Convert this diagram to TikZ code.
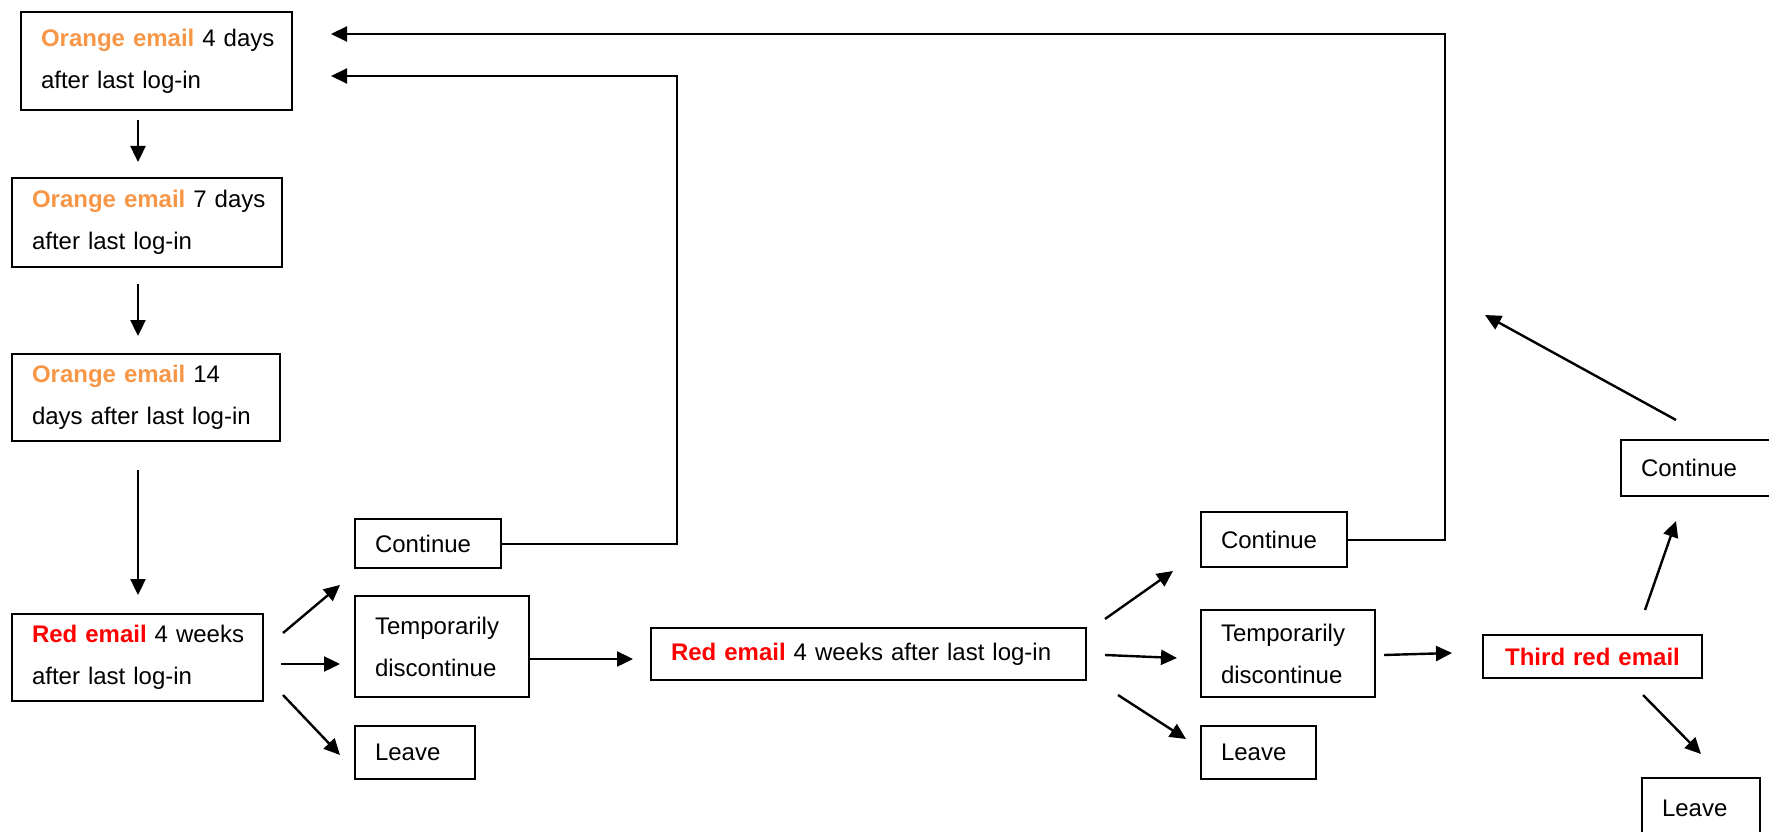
\documentclass[tikz,border=0pt]{standalone}
\usepackage{fontspec}
\setmainfont{Liberation Sans}
\usetikzlibrary{arrows.meta}

\definecolor{mailorange}{HTML}{F79646}
\definecolor{mailred}{HTML}{FF0000}
\newcommand{\orangemail}{\textbf{\color{mailorange}Orange~email}}
\newcommand{\redmail}{\textbf{\color{mailred}Red~email}}

\begin{document}
\begin{tikzpicture}[x=1pt, y=-1pt, font=\fontsize{24}{42}\selectfont,
    box/.style={draw, line width=2pt, anchor=north west, inner xsep=20pt, inner ysep=0pt, align=left},
    arr/.style={-{Triangle[length=16pt,width=15pt]}, line width=2.4pt},
    back/.style={-{Triangle[length=16pt,width=15pt]}, line width=2pt}]

    \useasboundingbox (0,0) rectangle (1769,832);

    %% Orange emails
    \node[box, text width=231pt, minimum height=98pt] (o4) at (20,11) {\orangemail{}~4~days\\after last log-in};
    \node[box, text width=230pt, minimum height=89pt] (o7) at (11,177) {\orangemail{}~7~days\\after last log-in};
    \node[box, text width=228pt, minimum height=87pt] (o14) at (11,353) {\orangemail{}~14\\days~after~last~log-in};

    %% First red email and its choices
    \node[box, text width=211pt, minimum height=87pt] (r1) at (11,613) {\redmail{}~4~weeks\\after last log-in};
    \node[box, text width=106pt, minimum height=49pt] (c1) at (354,518) {Continue};
    \node[box, text width=134pt, minimum height=101pt] (t1) at (354,595) {Temporarily\\discontinue};
    \node[box, text width=80pt, minimum height=53pt] (l1) at (354,725) {Leave};

    %% Second red email and its choices
    \node[box, text width=395pt, minimum height=52pt] (r2) at (650,627) {\redmail{} 4 weeks after last log-in};
    \node[box, text width=106pt, minimum height=55pt] (c2) at (1200,511) {Continue};
    \node[box, text width=134pt, minimum height=87pt] (t2) at (1200,609) {Temporarily\\discontinue};
    \node[box, text width=75pt, minimum height=53pt] (l2) at (1200,725) {Leave};

    %% Third red email and its choices
    \node[box, align=center, text width=179pt, minimum height=43pt] (r3) at (1482,634) {\textbf{\color{mailred}Third red email}};
    \node[box, text width=115pt, minimum height=56pt] (c3) at (1620,439) {Continue};
    \node[box, text width=78pt, minimum height=60pt] (l3) at (1641,777) {Leave};

    % Free ends
    \coordinate (col) at (138,0);
    \coordinate (in1) at (331,34);
    \coordinate (in2) at (331,76);
    \coordinate (up3) at (1485,315);

    % Down the orange emails
    \draw[arr, shorten <=9pt, shorten >=15pt] (o4.south -| col) -- (o7.north -| col);
    \draw[arr, shorten <=16pt, shorten >=17pt] (o7.south -| col) -- (o14.north -| col);
    \draw[arr, shorten <=28pt, shorten >=18pt] (o14.south -| col) -- (r1.north -| col);

    % From first red email
    \draw[arr] ([shift={(19,20)}]r1.north east) -- ([shift={(-14,16)}]c1.south west);
    \draw[arr] ([shift={(17,6.5)}]r1.east) -- ([shift={(-14,17.5)}]t1.west);
    \draw[arr] ([shift={(19,-7)}]r1.south east) -- ([shift={(-14,2.5)}]l1.west);
    \draw[arr] ([shift={(0,12.5)}]t1.east) -- ([shift={(-17,5)}]r2.west);

    % From second red email
    \draw[arr] ([shift={(18,-8)}]r2.north east) -- ([shift={(-27,3)}]c2.south west);
    \draw[arr] ([shift={(18,1)}]r2.east) -- ([shift={(-23,4.5)}]t2.west);
    \draw[arr] ([shift={(31,14)}]r2.south east) -- ([shift={(-14,-13.5)}]l2.west);
    \draw[arr] ([shift={(8,1.5)}]t2.east) -- ([shift={(-30,-3.5)}]r3.west);

    % From third red email
    \draw[arr] ([shift={(52.5,-24)}]r3.north) -- ([shift={(-22.5,24)}]c3.south);
    \draw[arr] ([shift={(50.5,16)}]r3.south) -- ([shift={(0,-23)}]l3.north);
    \draw[arr] ([shift={(-22.5,-19)}]c3.north) -- (up3);

    % Back to the start
    \draw[back] (c1.east) -- ++(175,0) |- (in2);
    \draw[back] (c2.east) -- ++(97,0) |- (in1);

\end{tikzpicture}
\end{document}
